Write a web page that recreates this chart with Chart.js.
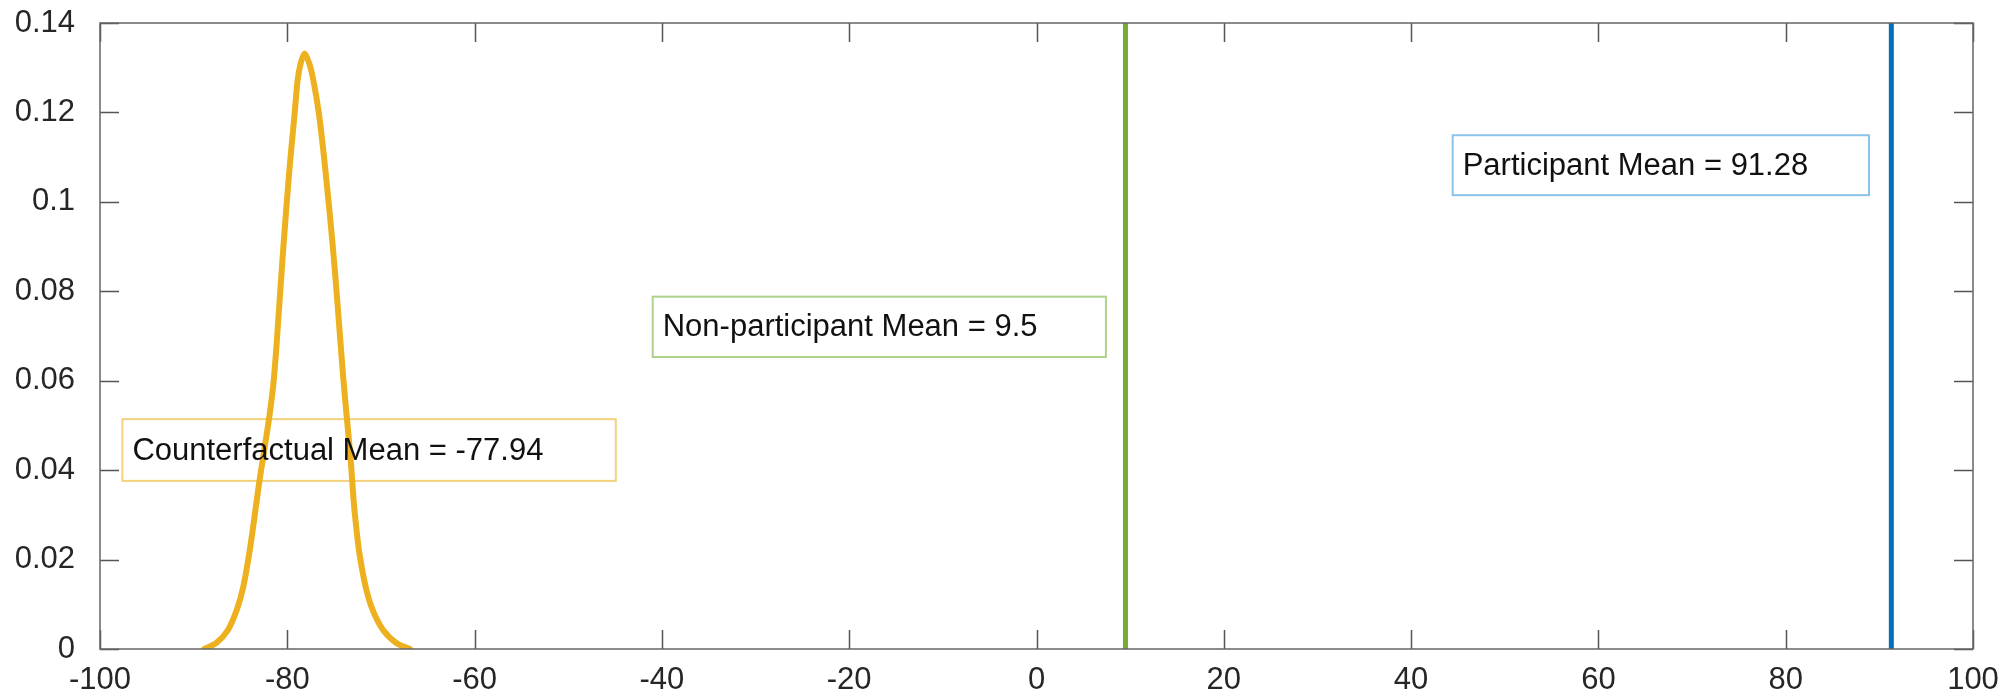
<!DOCTYPE html>
<html>
<head>
<meta charset="utf-8">
<script src="https://cdn.jsdelivr.net/npm/chart.js@4/dist/chart.umd.min.js"></script>
<style>
  html, body { margin: 0; padding: 0; background: #fff; }
  #wrap { width: 2013px; height: 697px; }
</style>
</head>
<body>
<div id="wrap"><canvas id="c"></canvas></div>
<script>
/* --- data --------------------------------------------------------- */
// kernel density of the counterfactual outcome
const kdeX = [-88.85, -87.6, -86.35, -85.4, -84.7, -84.06, -83.55, -83.05, -82.5, -81.95,
              -81.5, -81.2, -80.95, -80.7, -80.45, -80.18, -79.9, -79.62, -79.22, -78.9,
              -78.58, -78.15, -77.65, -77.22, -76.62, -76.12, -75.75, -75.4, -75.08, -74.78,
              -74.42, -74.15, -73.85, -73.52, -73.2, -72.95, -72.72, -72.3, -71.63, -70.88,
              -69.75, -68.32, -66.9];
const kdeY = [0, 0.0013, 0.0042, 0.0087, 0.0139, 0.0214, 0.0288, 0.0365, 0.044, 0.0515,
              0.059, 0.0665, 0.074, 0.0815, 0.089, 0.0965, 0.104, 0.1108, 0.1197, 0.1272,
              0.1309, 0.1332, 0.1309, 0.1272, 0.1197, 0.1108, 0.1033, 0.0959, 0.0885, 0.081,
              0.0713, 0.0639, 0.0564, 0.049, 0.0415, 0.034, 0.0288, 0.0214, 0.0139, 0.0087,
              0.0042, 0.0013, 0];

// group means
const meanNames  = ['Counterfactual Mean', 'Non-participant Mean', 'Participant Mean'];
const meanValues = [-77.94, 9.5, 91.28];

// axes
const xTicks      = [-100, -80, -60, -40, -20, 0, 20, 40, 60, 80, 100];
const xTickLabels = ['-100', '-80', '-60', '-40', '-20', '0', '20', '40', '60', '80', '100'];
const yTicks      = [0, 0.02, 0.04, 0.06, 0.08, 0.1, 0.12, 0.14];
const yTickLabels = ['0', '0.02', '0.04', '0.06', '0.08', '0.1', '0.12', '0.14'];

/* --- colours -------------------------------------------------------- */
const GOLD = '#EDB120', GREEN = '#77AC30', BLUE = '#0072BD';
const FONT = '"Liberation Sans", Arial, Helvetica, sans-serif';

const yTop = yTicks[yTicks.length - 1];
const vline = v => [{ x: v, y: 0 }, { x: v, y: yTop }];

/* --- text boxes (MATLAB-like annotations) --------------------------- */
const textBoxes = {
  id: 'textBoxes',
  beforeDatasetsDraw(chart, args, opts) {
    const { ctx, scales: { x, y } } = chart;
    ctx.save();
    opts.boxes.forEach(b => {
      const l = x.getPixelForValue(b.x1), r = x.getPixelForValue(b.x2);
      const t = y.getPixelForValue(b.y1), btm = y.getPixelForValue(b.y2);
      ctx.strokeStyle = b.edge;
      ctx.lineWidth = 2;
      ctx.strokeRect(l, t, r - l, btm - t);
    });
    ctx.restore();
  },
  afterDatasetsDraw(chart, args, opts) {
    const { ctx, scales: { x, y } } = chart;
    ctx.save();
    ctx.font = '31px ' + FONT;
    ctx.fillStyle = '#111';
    ctx.textBaseline = 'middle';
    ctx.textAlign = 'left';
    opts.boxes.forEach((b, i) => {
      const l = x.getPixelForValue(b.x1);
      const t = y.getPixelForValue(b.y1), btm = y.getPixelForValue(b.y2);
      ctx.fillText(meanNames[i] + ' = ' + meanValues[i], l + 10, (t + btm) / 2 + 1);
    });
    ctx.restore();
  }
};

/* --- box frame + inward ticks --------------------------------------- */
const frame = {
  id: 'frame',
  afterDraw(chart) {
    const { ctx, chartArea: a, scales: { x, y } } = chart;
    const tl = 19;
    ctx.save();
    ctx.strokeStyle = '#555';
    ctx.lineWidth = 1.5;
    ctx.beginPath();
    xTicks.forEach(v => {
      const px = Math.round(x.getPixelForValue(v)) + 0.5;
      ctx.moveTo(px, a.bottom); ctx.lineTo(px, a.bottom - tl);
      ctx.moveTo(px, a.top);    ctx.lineTo(px, a.top + tl);
    });
    yTicks.forEach(v => {
      const py = Math.round(y.getPixelForValue(v)) + 0.5;
      ctx.moveTo(a.left, py);  ctx.lineTo(a.left + tl, py);
      ctx.moveTo(a.right, py); ctx.lineTo(a.right - tl, py);
    });
    ctx.stroke();
    ctx.strokeStyle = '#666';
    ctx.strokeRect(a.left, a.top, a.right - a.left, a.bottom - a.top);
    ctx.restore();
  }
};

new Chart(document.getElementById('c'), {
  type: 'scatter',
  data: {
    datasets: [
      {
        label: 'Counterfactual',
        data: kdeX.map((v, i) => ({ x: v, y: kdeY[i] })),
        showLine: true, borderColor: GOLD, borderWidth: 6,
        tension: 0.3, borderCapStyle: 'round', borderJoinStyle: 'round',
        pointRadius: 0
      },
      {
        label: 'Non-participant',
        data: vline(meanValues[1]),
        showLine: true, borderColor: GREEN, borderWidth: 5, pointRadius: 0
      },
      {
        label: 'Participant',
        data: vline(meanValues[2]),
        showLine: true, borderColor: BLUE, borderWidth: 5, pointRadius: 0
      }
    ]
  },
  options: {
    responsive: true,
    maintainAspectRatio: false,
    animation: false,
    layout: { padding: { top: 23, right: 40, left: 0, bottom: 0 } },
    plugins: {
      legend: { display: false },
      tooltip: { enabled: false },
      textBoxes: {
        boxes: [
          { x1: -97.61, y1: 0.0514, x2: -44.92, y2: 0.0376, edge: '#F4D27C' },
          { x1: -40.98, y1: 0.0788, x2: 7.41,   y2: 0.0653, edge: '#ADD38A' },
          { x1: 44.44,  y1: 0.1149, x2: 88.89,  y2: 0.1015, edge: '#8CC3EA' }
        ]
      }
    },
    scales: {
      x: {
        type: 'linear', min: -100, max: 100,
        afterBuildTicks: s => { s.ticks = xTicks.map(v => ({ value: v })); },
        afterFit: s => { s.height = 48; s.paddingLeft = 0; s.paddingRight = 0; },
        grid: { display: false, drawTicks: false },
        border: { display: false },
        ticks: {
          padding: 13, maxRotation: 0, autoSkip: false,
          color: '#262626', font: { family: FONT, size: 31 },
          callback: (v, i) => xTickLabels[i]
        }
      },
      y: {
        type: 'linear', min: 0, max: yTop,
        afterBuildTicks: s => { s.ticks = yTicks.map(v => ({ value: v })); },
        afterFit: s => { s.width = 100; s.paddingTop = 0; s.paddingBottom = 0; },
        grid: { display: false, drawTicks: false },
        border: { display: false },
        ticks: {
          padding: 25, autoSkip: false,
          color: '#262626', font: { family: FONT, size: 31 },
          callback: (v, i) => yTickLabels[i]
        }
      }
    }
  },
  plugins: [textBoxes, frame]
});
</script>
</body>
</html>
